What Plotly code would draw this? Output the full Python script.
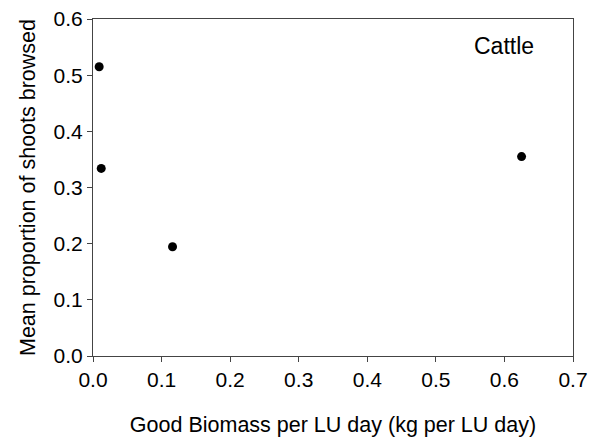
import plotly.graph_objects as go

biomass = [0.009, 0.012, 0.116, 0.625]
browsed = [0.515, 0.334, 0.1945, 0.355]

x_ticks = [0.0, 0.1, 0.2, 0.3, 0.4, 0.5, 0.6, 0.7]
y_ticks = [0.0, 0.1, 0.2, 0.3, 0.4, 0.5, 0.6]

FONT = "Liberation Sans, Arial, sans-serif"

fig = go.Figure()
fig.add_trace(go.Scatter(
    x=biomass, y=browsed, mode="markers",
    marker=dict(color="black", size=9),
    showlegend=False,
))

axis_common = dict(
    showgrid=False, zeroline=False, showline=True, linecolor="#444",
    linewidth=1, mirror=True, ticks="outside", ticklen=5, tickcolor="#444",
    tickfont=dict(family=FONT, size=21, color="black"), automargin=False,
)

fig.update_layout(
    width=590, height=443,
    margin=dict(l=92.5, r=16.5, t=19, b=87),
    paper_bgcolor="white", plot_bgcolor="white",
    font=dict(family=FONT, color="black"),
    xaxis=dict(range=[0, 0.7], tickvals=x_ticks,
               ticktext=[f"{v:.1f}" for v in x_ticks],
               title=dict(text="Good Biomass per LU day (kg per LU day)",
                          font=dict(family=FONT, size=21.5), standoff=26),
               **axis_common),
    yaxis=dict(range=[0, 0.6], tickvals=y_ticks,
               ticktext=[f"{v:.1f}" for v in y_ticks],
               title=dict(text="Mean proportion of shoots browsed",
                          font=dict(family=FONT, size=21.5), standoff=12),
               **axis_common),
    annotations=[dict(text="Cattle", x=0.599, y=0.552, xref="x", yref="y",
                      showarrow=False, font=dict(family=FONT, size=23, color="black"))],
)

fig.write_html("out.html")
